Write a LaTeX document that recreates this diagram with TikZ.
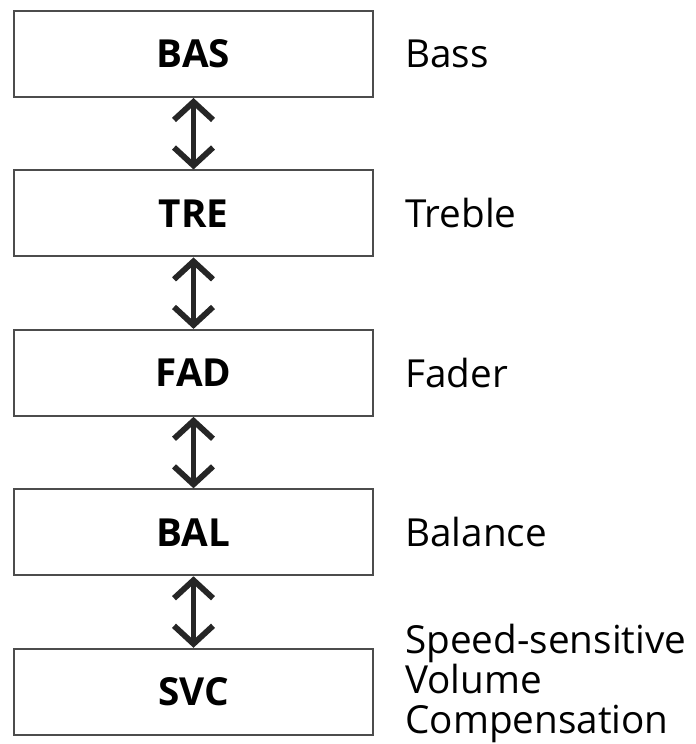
\documentclass[tikz,border=0pt]{standalone}
\usepackage{fontspec}
\setmainfont{Open Sans}
\usepackage{tikz}
\usetikzlibrary{arrows.meta, positioning}

\begin{document}
\begin{tikzpicture}[
  modebox/.style = {
    rectangle, draw=black!70, line width=1.1pt, fill=white,
    minimum width=7.18cm, minimum height=1.72cm, align=center, inner sep=0pt,
    font=\fontsize{22}{24}\selectfont\bfseries
  },
  desc/.style = {
    anchor=west, align=left, inner sep=0pt,
    font=\fontsize{22}{22.8}\selectfont
  },
  dblarrow/.style = {{Straight Barb[length=0.36cm, width=0.78cm]}-{Straight Barb[length=0.36cm, width=0.78cm]},
    line width=3.3pt, black!85}
]

  % page frame 696 x 744 px
  \useasboundingbox (0,0) rectangle (13.92,-14.88);

  % the five modes, stacked top to bottom
  \node[modebox] (bas) at (3.87,-1.08) {BAS};
  \node[modebox, below=1.43cm of bas] (tre) {TRE};
  \node[modebox, below=1.43cm of tre] (fad) {FAD};
  \node[modebox, below=1.43cm of fad] (bal) {BAL};
  \node[modebox, below=1.43cm of bal] (svc) {SVC};

  % descriptions on the right
  \node[desc] (basd) at ([xshift=0.62cm]bas.east) {Bass};
  \node[desc] (tred) at ([xshift=0.62cm]tre.east) {Treble};
  \node[desc] (fadd) at ([xshift=0.62cm]fad.east) {Fader};
  \node[desc] (bald) at ([xshift=0.62cm]bal.east) {Balance};
  \node[desc] (svcd) at ([xshift=0.62cm, yshift=0.16cm]svc.east) {Speed-sensitive\\Volume\\Compensation};

  % switching between modes
  \draw[dblarrow] (bas.south) -- (tre.north);
  \draw[dblarrow] (tre.south) -- (fad.north);
  \draw[dblarrow] (fad.south) -- (bal.north);
  \draw[dblarrow] (bal.south) -- (svc.north);

\end{tikzpicture}
\end{document}
